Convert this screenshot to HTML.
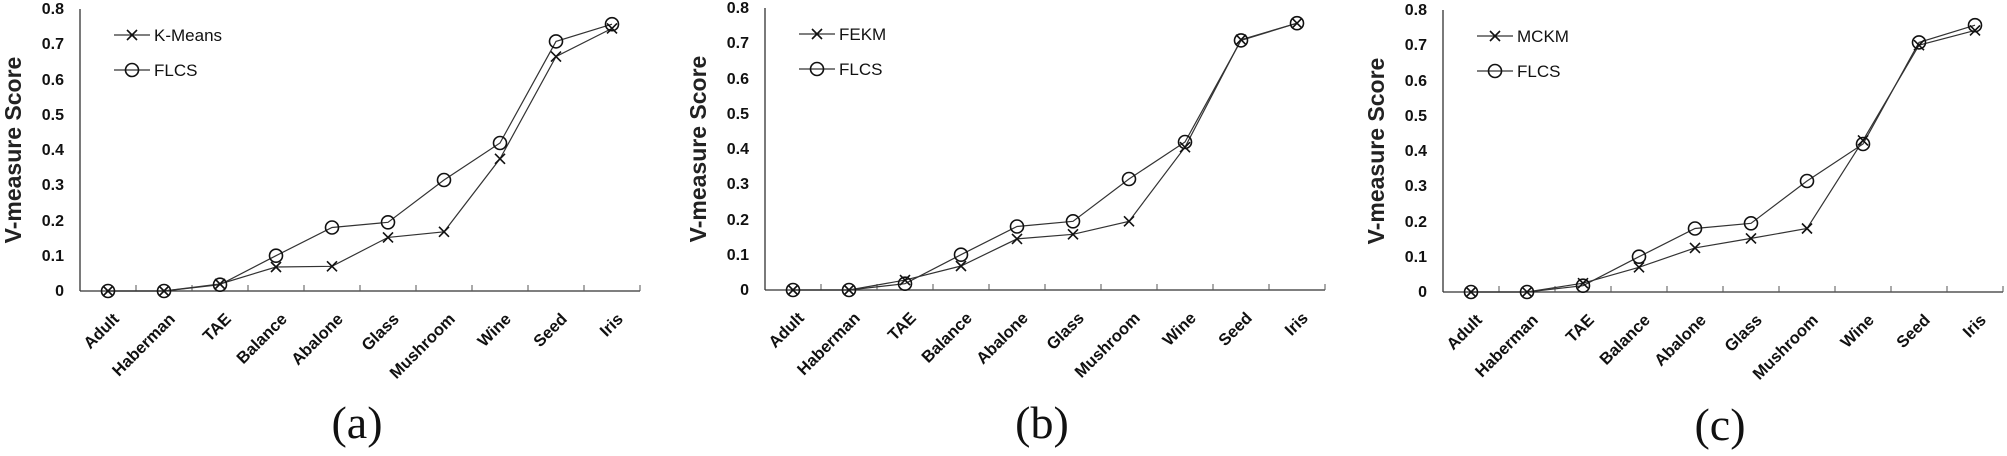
<!DOCTYPE html>
<html><head><meta charset="utf-8"><style>
html,body{margin:0;padding:0;background:#fff}
svg{display:block}
.tk{font:bold 16px "Liberation Sans",sans-serif;fill:#111}
.xl{font:bold 16.5px "Liberation Sans",sans-serif;fill:#111}
.yl{font:bold 23px "Liberation Sans",sans-serif;fill:#222}
.lg{font:17px "Liberation Sans",sans-serif;fill:#111}
.sub{font:46px "Liberation Serif",serif;fill:#111}
</style></head><body>
<svg width="2007" height="456" viewBox="0 0 2007 456" xmlns="http://www.w3.org/2000/svg">
<defs>
<g id="c"><circle r="6.5" fill="none" stroke="#111" stroke-width="1.6"/></g>
<g id="x"><path d="M-5,-5L5,5M-5,5L5,-5" stroke="#111" stroke-width="1.6"/></g>
</defs>

<!-- (a) -->
<g transform="translate(80,291)">
 <path d="M0,0V-282M0,0H560" stroke="#333" stroke-width="1.3" fill="none"/>
 <path d="M56,0v-6M112,0v-6M168,0v-6M224,0v-6M280,0v-6M336,0v-6M392,0v-6M448,0v-6M504,0v-6M560,0v-6" stroke="#555" stroke-width="1"/>
 <g class="tk" text-anchor="end">
  <text x="-16" y="5">0</text><text x="-16" y="-30">0.1</text><text x="-16" y="-65">0.2</text><text x="-16" y="-101">0.3</text>
  <text x="-16" y="-136">0.4</text><text x="-16" y="-171">0.5</text><text x="-16" y="-206">0.6</text><text x="-16" y="-242">0.7</text><text x="-16" y="-277">0.8</text>
 </g>
 <g class="xl" text-anchor="end">
  <text transform="translate(40,29) rotate(-45)">Adult</text>
  <text transform="translate(96,29) rotate(-45)">Haberman</text>
  <text transform="translate(152,29) rotate(-45)">TAE</text>
  <text transform="translate(208,29) rotate(-45)">Balance</text>
  <text transform="translate(264,29) rotate(-45)">Abalone</text>
  <text transform="translate(320,29) rotate(-45)">Glass</text>
  <text transform="translate(376,29) rotate(-45)">Mushroom</text>
  <text transform="translate(432,29) rotate(-45)">Wine</text>
  <text transform="translate(488,29) rotate(-45)">Seed</text>
  <text transform="translate(544,29) rotate(-45)">Iris</text>
 </g>
 <text class="yl" text-anchor="middle" transform="translate(-59,-141) rotate(-90)">V-measure Score</text>
 <path d="M34,-256H70M34,-221H70" stroke="#333" stroke-width="1.2"/>
 <use href="#x" x="52" y="-256"/><use href="#c" x="52" y="-221"/>
 <text class="lg" x="74" y="-250">K-Means</text>
 <text class="lg" x="74" y="-215">FLCS</text>
 <polyline fill="none" stroke="#333" stroke-width="1.2" points="28,0 84,0 140,-6.3 196,-35.3 252,-63.5 308,-68.7 364,-111 420,-148 476,-249.6 532,-266.8"/>
 <polyline fill="none" stroke="#333" stroke-width="1.2" points="28,0 84,0 140,-7 196,-24 252,-24.7 308,-53.6 364,-59.2 420,-132.2 476,-234.4 532,-262.6"/>
 <use href="#c" x="28" y="0"/><use href="#c" x="84" y="0"/><use href="#c" x="140" y="-6.3"/><use href="#c" x="196" y="-35.3"/><use href="#c" x="252" y="-63.5"/><use href="#c" x="308" y="-68.7"/><use href="#c" x="364" y="-111"/><use href="#c" x="420" y="-148"/><use href="#c" x="476" y="-249.6"/><use href="#c" x="532" y="-266.8"/>
 <use href="#x" x="28" y="0"/><use href="#x" x="84" y="0"/><use href="#x" x="140" y="-7"/><use href="#x" x="196" y="-24"/><use href="#x" x="252" y="-24.7"/><use href="#x" x="308" y="-53.6"/><use href="#x" x="364" y="-59.2"/><use href="#x" x="420" y="-132.2"/><use href="#x" x="476" y="-234.4"/><use href="#x" x="532" y="-262.6"/>
</g>

<!-- (b) -->
<g transform="translate(765,290)">
 <path d="M0,0V-282M0,0H560" stroke="#333" stroke-width="1.3" fill="none"/>
 <path d="M56,0v-6M112,0v-6M168,0v-6M224,0v-6M280,0v-6M336,0v-6M392,0v-6M448,0v-6M504,0v-6M560,0v-6" stroke="#555" stroke-width="1"/>
 <g class="tk" text-anchor="end">
  <text x="-16" y="5">0</text><text x="-16" y="-30">0.1</text><text x="-16" y="-65">0.2</text><text x="-16" y="-101">0.3</text>
  <text x="-16" y="-136">0.4</text><text x="-16" y="-171">0.5</text><text x="-16" y="-206">0.6</text><text x="-16" y="-242">0.7</text><text x="-16" y="-277">0.8</text>
 </g>
 <g class="xl" text-anchor="end">
  <text transform="translate(40,29) rotate(-45)">Adult</text>
  <text transform="translate(96,29) rotate(-45)">Haberman</text>
  <text transform="translate(152,29) rotate(-45)">TAE</text>
  <text transform="translate(208,29) rotate(-45)">Balance</text>
  <text transform="translate(264,29) rotate(-45)">Abalone</text>
  <text transform="translate(320,29) rotate(-45)">Glass</text>
  <text transform="translate(376,29) rotate(-45)">Mushroom</text>
  <text transform="translate(432,29) rotate(-45)">Wine</text>
  <text transform="translate(488,29) rotate(-45)">Seed</text>
  <text transform="translate(544,29) rotate(-45)">Iris</text>
 </g>
 <text class="yl" text-anchor="middle" transform="translate(-59,-141) rotate(-90)">V-measure Score</text>
 <path d="M34,-256H70M34,-221H70" stroke="#333" stroke-width="1.2"/>
 <use href="#x" x="52" y="-256"/><use href="#c" x="52" y="-221"/>
 <text class="lg" x="74" y="-250">FEKM</text>
 <text class="lg" x="74" y="-215">FLCS</text>
 <polyline fill="none" stroke="#333" stroke-width="1.2" points="28,0 84,0 140,-6.3 196,-35.3 252,-63.5 308,-68.7 364,-111 420,-148 476,-249.6 532,-266.8"/>
 <polyline fill="none" stroke="#333" stroke-width="1.2" points="28,0 84,0 140,-9.9 196,-24 252,-51.1 308,-55.7 364,-68.7 420,-142.8 476,-250.3 532,-266.8"/>
 <use href="#c" x="28" y="0"/><use href="#c" x="84" y="0"/><use href="#c" x="140" y="-6.3"/><use href="#c" x="196" y="-35.3"/><use href="#c" x="252" y="-63.5"/><use href="#c" x="308" y="-68.7"/><use href="#c" x="364" y="-111"/><use href="#c" x="420" y="-148"/><use href="#c" x="476" y="-249.6"/><use href="#c" x="532" y="-266.8"/>
 <use href="#x" x="28" y="0"/><use href="#x" x="84" y="0"/><use href="#x" x="140" y="-9.9"/><use href="#x" x="196" y="-24"/><use href="#x" x="252" y="-51.1"/><use href="#x" x="308" y="-55.7"/><use href="#x" x="364" y="-68.7"/><use href="#x" x="420" y="-142.8"/><use href="#x" x="476" y="-250.3"/><use href="#x" x="532" y="-266.8"/>
</g>

<!-- (c) -->
<g transform="translate(1443,292)">
 <path d="M0,0V-282M0,0H560" stroke="#333" stroke-width="1.3" fill="none"/>
 <path d="M56,0v-6M112,0v-6M168,0v-6M224,0v-6M280,0v-6M336,0v-6M392,0v-6M448,0v-6M504,0v-6M560,0v-6" stroke="#555" stroke-width="1"/>
 <g class="tk" text-anchor="end">
  <text x="-16" y="5">0</text><text x="-16" y="-30">0.1</text><text x="-16" y="-65">0.2</text><text x="-16" y="-101">0.3</text>
  <text x="-16" y="-136">0.4</text><text x="-16" y="-171">0.5</text><text x="-16" y="-206">0.6</text><text x="-16" y="-242">0.7</text><text x="-16" y="-277">0.8</text>
 </g>
 <g class="xl" text-anchor="end">
  <text transform="translate(40,29) rotate(-45)">Adult</text>
  <text transform="translate(96,29) rotate(-45)">Haberman</text>
  <text transform="translate(152,29) rotate(-45)">TAE</text>
  <text transform="translate(208,29) rotate(-45)">Balance</text>
  <text transform="translate(264,29) rotate(-45)">Abalone</text>
  <text transform="translate(320,29) rotate(-45)">Glass</text>
  <text transform="translate(376,29) rotate(-45)">Mushroom</text>
  <text transform="translate(432,29) rotate(-45)">Wine</text>
  <text transform="translate(488,29) rotate(-45)">Seed</text>
  <text transform="translate(544,29) rotate(-45)">Iris</text>
 </g>
 <text class="yl" text-anchor="middle" transform="translate(-59,-141) rotate(-90)">V-measure Score</text>
 <path d="M34,-256H70M34,-221H70" stroke="#333" stroke-width="1.2"/>
 <use href="#x" x="52" y="-256"/><use href="#c" x="52" y="-221"/>
 <text class="lg" x="74" y="-250">MCKM</text>
 <text class="lg" x="74" y="-215">FLCS</text>
 <polyline fill="none" stroke="#333" stroke-width="1.2" points="28,0 84,0 140,-6.3 196,-35.3 252,-63.5 308,-68.7 364,-111 420,-148 476,-249.6 532,-266.8"/>
 <polyline fill="none" stroke="#333" stroke-width="1.2" points="28,0 84,0 140,-8.8 196,-24.7 252,-44.1 308,-53.6 364,-63.5 420,-151.6 476,-246.8 532,-261.6"/>
 <use href="#c" x="28" y="0"/><use href="#c" x="84" y="0"/><use href="#c" x="140" y="-6.3"/><use href="#c" x="196" y="-35.3"/><use href="#c" x="252" y="-63.5"/><use href="#c" x="308" y="-68.7"/><use href="#c" x="364" y="-111"/><use href="#c" x="420" y="-148"/><use href="#c" x="476" y="-249.6"/><use href="#c" x="532" y="-266.8"/>
 <use href="#x" x="28" y="0"/><use href="#x" x="84" y="0"/><use href="#x" x="140" y="-8.8"/><use href="#x" x="196" y="-24.7"/><use href="#x" x="252" y="-44.1"/><use href="#x" x="308" y="-53.6"/><use href="#x" x="364" y="-63.5"/><use href="#x" x="420" y="-151.6"/><use href="#x" x="476" y="-246.8"/><use href="#x" x="532" y="-261.6"/>
</g>

<text class="sub" x="357" y="438" text-anchor="middle">(a)</text>
<text class="sub" x="1042" y="438" text-anchor="middle">(b)</text>
<text class="sub" x="1720" y="440" text-anchor="middle">(c)</text>
</svg>
</body></html>
